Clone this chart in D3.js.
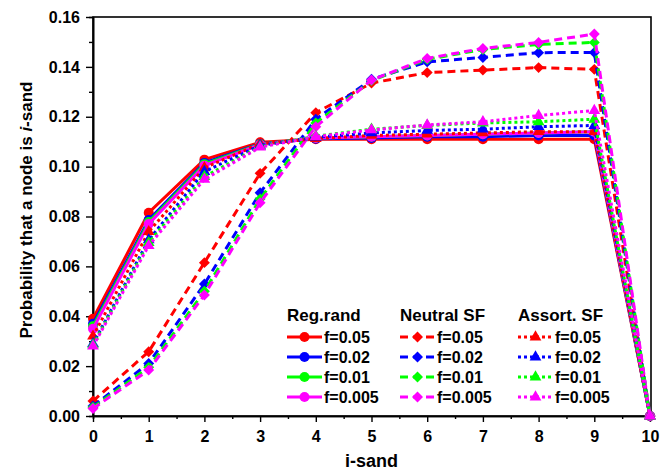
<!DOCTYPE html>
<html>
<head>
<meta charset="utf-8">
<script src="https://cdn.jsdelivr.net/npm/d3@7"></script>
<style>
  body { margin: 0; background: #fff; }
  text { font-family: "Liberation Sans", Arial, sans-serif; font-weight: bold; fill: #000; }
</style>
</head>
<body>
<svg id="chart" width="670" height="472"></svg>
<script>
// i-sand index (x axis)
const iSand = [0, 1, 2, 3, 4, 5, 6, 7, 8, 9, 10];
const xTicks = [0, 1, 2, 3, 4, 5, 6, 7, 8, 9, 10];
const yTicks = [0, 0.02, 0.04, 0.06, 0.08, 0.10, 0.12, 0.14, 0.16];

// Regular random network
const regRand005  = [0.039, 0.0815, 0.1028, 0.1098, 0.1110, 0.1110, 0.1110, 0.1110, 0.1110, 0.1110, 0];
const regRand002  = [0.037, 0.0786, 0.1015, 0.1092, 0.1112, 0.1115, 0.1120, 0.1120, 0.1125, 0.1125, 0];
const regRand001  = [0.036, 0.0778, 0.1010, 0.1090, 0.1115, 0.1120, 0.1125, 0.1130, 0.1135, 0.1140, 0];
const regRand0005 = [0.035, 0.0770, 0.1004, 0.1088, 0.1115, 0.1120, 0.1125, 0.1130, 0.1135, 0.1140, 0];

// Neutral scale-free network
const neutralSF005  = [0.006, 0.0258, 0.0615, 0.0973, 0.1216, 0.1335, 0.1377, 0.1387, 0.1397, 0.1390, 0];
const neutralSF002  = [0.004, 0.0211, 0.0529, 0.0895, 0.1190, 0.1350, 0.1420, 0.1438, 0.1457, 0.1458, 0];
const neutralSF001  = [0.0035, 0.0195, 0.0500, 0.0870, 0.1175, 0.1345, 0.1430, 0.1470, 0.1490, 0.1498, 0];
const neutralSF0005 = [0.003, 0.0184, 0.0485, 0.0855, 0.1160, 0.1347, 0.1434, 0.1474, 0.1498, 0.1532, 0];

// Assortative scale-free network
const assortSF005  = [0.032, 0.0739, 0.0995, 0.1092, 0.1112, 0.1125, 0.1130, 0.1135, 0.1140, 0.1140, 0];
const assortSF002  = [0.029, 0.0706, 0.0980, 0.1085, 0.1118, 0.1135, 0.1145, 0.1150, 0.1160, 0.1165, 0];
const assortSF001  = [0.0285, 0.0695, 0.0960, 0.1080, 0.1122, 0.1150, 0.1165, 0.1175, 0.1180, 0.1190, 0];
const assortSF0005 = [0.028, 0.0683, 0.0949, 0.1078, 0.1120, 0.1147, 0.1167, 0.1180, 0.1205, 0.1225, 0];

const fLabels = ["f=0.05", "f=0.02", "f=0.01", "f=0.005"];
const colors = ["#ff0000", "#0000ff", "#00ff00", "#ff00ff"];

const groups = [
  { title: "Reg.rand",   dash: null,  marker: "circle",   series: [regRand005, regRand002, regRand001, regRand0005] },
  { title: "Neutral SF", dash: "8,5", marker: "diamond",  series: [neutralSF005, neutralSF002, neutralSF001, neutralSF0005] },
  { title: "Assort. SF", dash: "3,3", marker: "triangle", series: [assortSF005, assortSF002, assortSF001, assortSF0005] }
];

const svg = d3.select("#chart");
const plotLeft = 93, plotRight = 651, plotTop = 17, plotBottom = 416;

const x = d3.scaleLinear().domain([0, 10]).range([plotLeft, 650]);
const y = d3.scaleLinear().domain([0, 0.16]).range([plotBottom, plotTop]);

// marker shapes
const markerPath = {
  circle:   d3.symbol().type(d3.symbolCircle).size(78)(),
  diamond:  d3.symbol().type(d3.symbolSquare).size(60)(),
  triangle: d3.symbol().type(d3.symbolTriangle).size(60)()
};
const markerRotate = { circle: 0, diamond: 45, triangle: 0 };

// frame
svg.append("rect")
  .attr("x", plotLeft).attr("y", plotTop)
  .attr("width", plotRight - plotLeft).attr("height", plotBottom - plotTop)
  .attr("fill", "none").attr("stroke", "#000").attr("stroke-width", 1.6);

// x axis: major and minor ticks
const xMinor = svg.append("g").attr("transform", `translate(0,${plotBottom})`)
  .call(d3.axisBottom(x).tickValues(d3.range(0.5, 10, 1)).tickSize(3).tickFormat(""));
const xAxis = svg.append("g").attr("transform", `translate(0,${plotBottom})`)
  .call(d3.axisBottom(x).tickValues(xTicks).tickSize(6).tickSizeOuter(0).tickPadding(9).tickFormat(d3.format("d")));
xAxis.selectAll("text").style("font-size", "16px").attr("font-family", null);

// y axis: major and minor ticks
const yMinor = svg.append("g").attr("transform", `translate(${plotLeft},0)`)
  .call(d3.axisLeft(y).tickValues(d3.range(0.01, 0.16, 0.02)).tickSize(4).tickFormat(""));
const yAxis = svg.append("g").attr("transform", `translate(${plotLeft},0)`)
  .call(d3.axisLeft(y).tickValues(yTicks).tickSize(7).tickSizeOuter(0).tickPadding(6).tickFormat(d3.format(".2f")));
yAxis.selectAll("text").style("font-size", "16px").attr("font-family", null);

[xMinor, xAxis, yMinor, yAxis].forEach(g => {
  g.select(".domain").attr("stroke-width", 1.6);
  g.selectAll(".tick line").attr("stroke-width", 1.4);
});

// axis titles
svg.append("text")
  .attr("x", (plotLeft + 650) / 2).attr("y", 467)
  .attr("text-anchor", "middle").style("font-size", "18px")
  .text("i-sand");

const yTitle = svg.append("text")
  .attr("transform", "translate(32,210) rotate(-90)")
  .attr("text-anchor", "middle").style("font-size", "17px");
yTitle.append("tspan").text("Probability that a node is ");
yTitle.append("tspan").attr("font-style", "italic").text("i");
yTitle.append("tspan").text("-sand");

// data series
const line = d3.line().x((d, i) => x(iSand[i])).y(d => y(d));
const plot = svg.append("g");

groups.forEach(g => {
  g.series.forEach((vals, k) => {
    plot.append("path")
      .datum(vals)
      .attr("d", line)
      .attr("fill", "none")
      .attr("stroke", colors[k])
      .attr("stroke-width", 3)
      .attr("stroke-dasharray", g.dash);
    plot.selectAll(null)
      .data(vals)
      .join("path")
      .attr("d", markerPath[g.marker])
      .attr("transform", (d, i) => `translate(${x(iSand[i])},${y(d)}) rotate(${markerRotate[g.marker]})`)
      .attr("fill", colors[k]);
  });
});

// legend
const legendX = [287, 400, 518];
const legend = svg.append("g");
groups.forEach((g, j) => {
  const lx = legendX[j];
  legend.append("text")
    .attr("x", lx).attr("y", 321)
    .style("font-size", "17px")
    .text(g.title);
  fLabels.forEach((lab, k) => {
    const ly = 337 + k * 20;
    legend.append("line")
      .attr("x1", lx).attr("x2", lx + 35)
      .attr("y1", ly).attr("y2", ly)
      .attr("stroke", colors[k]).attr("stroke-width", 3)
      .attr("stroke-dasharray", g.dash);
    legend.append("path")
      .attr("d", markerPath[g.marker])
      .attr("transform", `translate(${lx + 17.5},${ly}) rotate(${markerRotate[g.marker]})`)
      .attr("fill", colors[k]);
    legend.append("text")
      .attr("x", lx + 37).attr("y", ly + 6)
      .style("font-size", "16px")
      .text(lab);
  });
});
</script>
</body>
</html>
